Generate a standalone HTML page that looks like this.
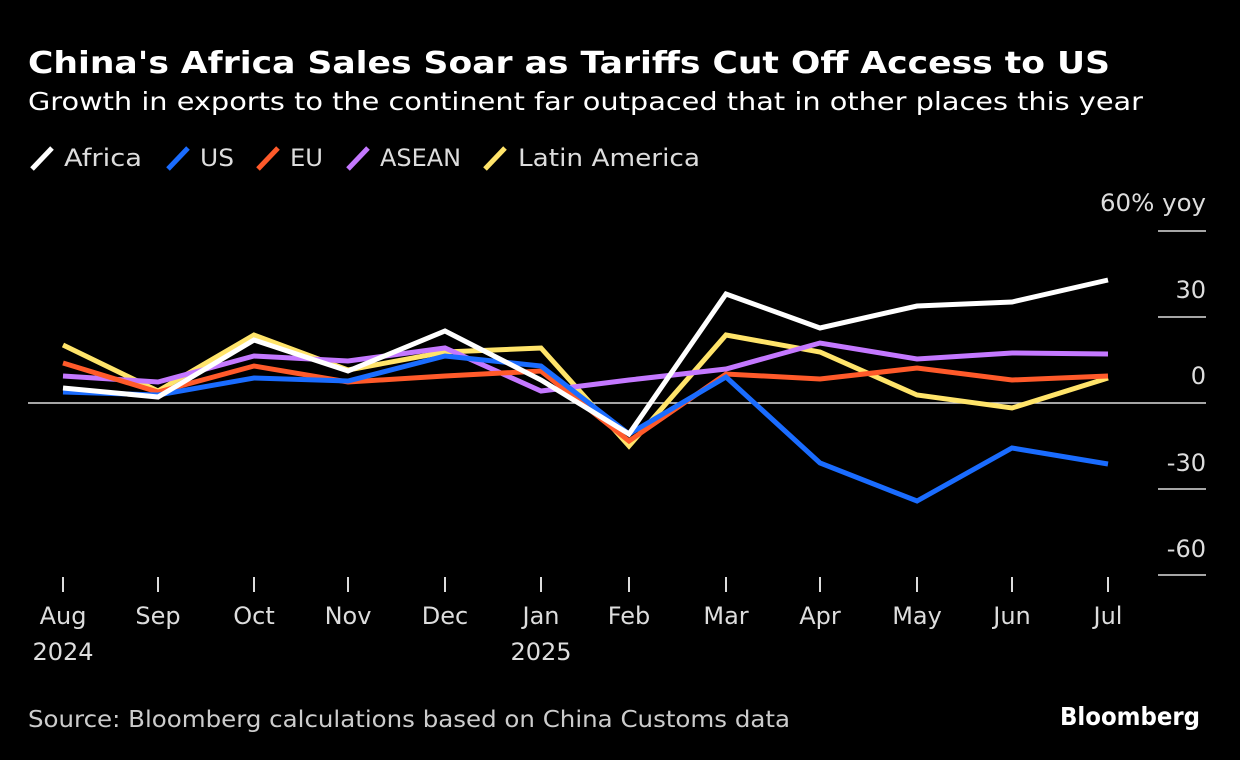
<!DOCTYPE html>
<html><head><meta charset="utf-8"><style>
body{margin:0;background:#000;width:1240px;height:760px;overflow:hidden;font-family:"DejaVu Sans","Liberation Sans",sans-serif;color:#fff}
</style></head><body>
<svg width="1240" height="760" xmlns="http://www.w3.org/2000/svg" style="position:absolute;left:0;top:0" font-family="DejaVu Sans, Liberation Sans, sans-serif">
<text x="28" y="73" font-size="30" font-weight="bold" fill="#fff" textLength="1082" lengthAdjust="spacingAndGlyphs">China's Africa Sales Soar as Tariffs Cut Off Access to US</text>
<text x="28" y="110" font-size="25" fill="#fff" textLength="1115" lengthAdjust="spacingAndGlyphs">Growth in exports to the continent far outpaced that in other places this year</text>
<g font-size="24" fill="#ddd" stroke-linecap="butt">
<path d="M32 169 L52 148" stroke="#fff" stroke-width="5"/><text x="64" y="166" textLength="78" lengthAdjust="spacingAndGlyphs">Africa</text>
<path d="M168 169 L188 148" stroke="#1a6cff" stroke-width="5"/><text x="200" y="166" textLength="34" lengthAdjust="spacingAndGlyphs">US</text>
<path d="M258 169 L278 148" stroke="#ff5a2a" stroke-width="5"/><text x="290" y="166" textLength="33" lengthAdjust="spacingAndGlyphs">EU</text>
<path d="M348 169 L368 148" stroke="#c478ff" stroke-width="5"/><text x="380" y="166" textLength="81" lengthAdjust="spacingAndGlyphs">ASEAN</text>
<path d="M485 169 L505 148" stroke="#ffe46a" stroke-width="5"/><text x="518" y="166" textLength="182" lengthAdjust="spacingAndGlyphs">Latin America</text>
</g>
<g stroke="#ddd" stroke-width="1.5">
<line x1="1158" y1="231" x2="1206" y2="231"/><line x1="1158" y1="317" x2="1206" y2="317"/>
<line x1="1158" y1="489" x2="1206" y2="489"/><line x1="1158" y1="575" x2="1206" y2="575"/>
<line x1="28" y1="403" x2="1206" y2="403"/>
</g>
<g font-size="24" fill="#ddd" text-anchor="end">
<text x="1206" y="211" textLength="106" lengthAdjust="spacingAndGlyphs">60% yoy</text><text x="1206" y="298">30</text><text x="1206" y="384">0</text>
<text x="1206" y="471">-30</text><text x="1206" y="557">-60</text>
</g>
<g stroke="#ddd" stroke-width="2">
<line x1="63" y1="577" x2="63" y2="592"/><line x1="158" y1="577" x2="158" y2="592"/><line x1="254" y1="577" x2="254" y2="592"/><line x1="348" y1="577" x2="348" y2="592"/><line x1="445" y1="577" x2="445" y2="592"/><line x1="541" y1="577" x2="541" y2="592"/><line x1="629" y1="577" x2="629" y2="592"/><line x1="726" y1="577" x2="726" y2="592"/><line x1="820" y1="577" x2="820" y2="592"/><line x1="917" y1="577" x2="917" y2="592"/><line x1="1012" y1="577" x2="1012" y2="592"/><line x1="1108" y1="577" x2="1108" y2="592"/>
</g>
<g font-size="24" fill="#ddd" text-anchor="middle">
<text x="63" y="624">Aug</text><text x="63" y="660">2024</text><text x="158" y="624">Sep</text><text x="254" y="624">Oct</text><text x="348" y="624">Nov</text><text x="445" y="624">Dec</text><text x="541" y="624">Jan</text><text x="541" y="660">2025</text><text x="629" y="624">Feb</text><text x="726" y="624">Mar</text><text x="820" y="624">Apr</text><text x="917" y="624">May</text><text x="1012" y="624">Jun</text><text x="1108" y="624">Jul</text>
</g>
<g fill="none" stroke-width="5" stroke-linejoin="miter">
<polyline stroke="#ffe46a" points="63,345 158,391 254,335 348,370 445,352 541,348 629,446 726,335 820,352 917,395 1012,408 1108,378"/>
<polyline stroke="#c478ff" points="63,376 158,382 254,356 348,361 445,348 541,391 629,380 726,369 820,343 917,359 1012,353 1108,354"/>
<polyline stroke="#ff5a2a" points="63,363 158,392 254,366 348,382 445,376 541,371 629,441 726,374 820,379 917,368 1012,380 1108,376"/>
<polyline stroke="#1a6cff" points="63,392 158,395 254,378 348,381 445,356 541,366 629,434 726,377 820,463 917,501 1012,448 1108,464"/>
<polyline stroke="#fff" points="63,388 158,397 254,340 348,371 445,331 541,380 629,434 726,294 820,328 917,306 1012,302 1108,280"/>
</g>
<text x="28" y="727" font-size="23" fill="#ccc" textLength="762" lengthAdjust="spacingAndGlyphs">Source: Bloomberg calculations based on China Customs data</text>
<text x="1200" y="725" font-size="25" font-weight="bold" fill="#fff" text-anchor="end" textLength="140" lengthAdjust="spacingAndGlyphs">Bloomberg</text>
</svg>
</body></html>
